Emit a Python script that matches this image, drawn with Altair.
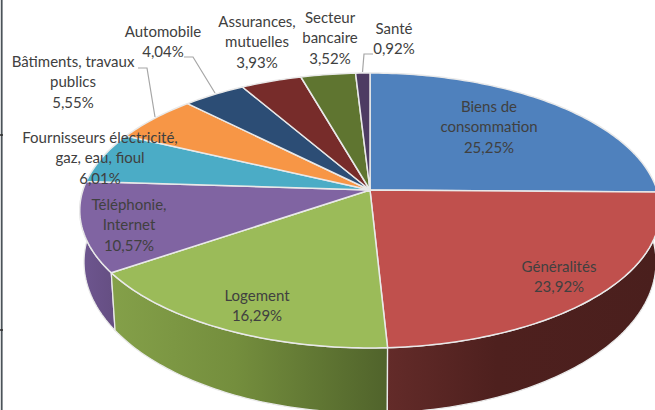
import math
import altair as alt
import pandas as pd

# Shares per complaint sector, clockwise from twelve o'clock
sectors = ["Biens de consommation", "Généralités", "Logement", "Téléphonie, Internet",
           "Fournisseurs électricité, gaz, eau, fioul", "Bâtiments, travaux publics",
           "Automobile", "Assurances, mutuelles", "Secteur bancaire", "Santé"]
shares = [25.25, 23.92, 16.29, 10.57, 6.01, 5.55, 4.04, 3.93, 3.52, 0.92]

# Wrapped label lines for each sector
label_lines = [["Biens de", "consommation"], ["Généralités"], ["Logement"],
               ["Téléphonie,", "Internet"], ["Fournisseurs électricité,", "gaz, eau, fioul"],
               ["Bâtiments, travaux", "publics"], ["Automobile"], ["Assurances,", "mutuelles"],
               ["Secteur", "bancaire"], ["Santé"]]

W, H = 655, 410
face_colors = ["#4F81BD", "#C0504D", "#9BBB59", "#8064A2", "#4BACC6",
               "#F79646", "#2C4D75", "#772C2A", "#5F7530", "#4D3B62"]
SEAM = "#e9e9e9"
TEXT = "#404040"
LEADER = "#a6a6a6"

# Layout of the label blocks: centre x and y of the first line
label_pos = [(489, 107), (559, 267), (257, 296), (129, 205), (100, 138),
             (73, 62), (163, 32), (257, 22), (330, 18), (394, 29)]
LINE_STEP = 20.3
leaders = [[(184, 57), (193, 57), (215, 93)],
           [(138, 68), (147, 68), (155, 117)],
           [(373, 54), (364, 54), (362.5, 72)]]

# Perspective projection of the pie disc: top face and bottom rim
PERSP = 0.149
CX = 370
TOP = dict(a=287.0, b=134.4, cy=190.0)
BOTTOM = dict(a=282.8, b=147.7, cy=239.5)


def project(deg, disc):
    t = math.radians(deg)
    u, v = math.sin(t), math.cos(t)
    w = 1 + PERSP * v
    return CX + disc["a"] * u / w, disc["cy"] - disc["b"] * v / w


def arc(start, end, disc):
    n = max(4, int(abs(end - start)))
    return [project(start + (end - start) * i / n, disc) for i in range(n + 1)]


def polygon(points):
    closed = points + [points[0]]
    return pd.DataFrame({"x": [p[0] for p in closed], "y": [p[1] for p in closed],
                         "i": list(range(len(closed)))})


X = alt.X("x:Q", scale=alt.Scale(domain=[0, W], nice=False, zero=False), axis=None)
Y = alt.Y("y:Q", scale=alt.Scale(domain=[H, 0], nice=False, zero=False), axis=None)


def filled(points, fill, width=1.5, stroke=SEAM):
    return alt.Chart(polygon(points)).mark_line(
        fill=fill, stroke=stroke, strokeWidth=width, strokeJoin="round", clip=True
    ).encode(x=X, y=Y, order="i:Q")


def side_gradient(stops):
    return alt.Gradient(
        gradient="linear", x1=0, x2=1, y1=0, y2=0,
        stops=[alt.GradientStop(color=c, offset=o) for o, c in stops],
    )


edges = [0.0]
for s in shares:
    edges.append(edges[-1] + s * 3.6)

layers = []

# Visible rim of the disc, front sectors only
rims = [
    (edges[3], 272.0, side_gradient([(0, "#6E5690"), (1, "#654E82")])),
    (edges[2], edges[3], side_gradient([(0, "#84A049"), (0.45, "#748E3D"), (1, "#50632B")])),
    (90.0, edges[2], side_gradient([(0, "#632B29"), (0.4, "#4E201E"), (1, "#4A1F1D")])),
]
for start, end, grad in rims:
    pts = arc(start, end, TOP) + arc(end, start, BOTTOM)
    layers.append(filled(pts, grad, 1.3))

# Top face
for k in range(len(shares)):
    pts = [(CX, TOP["cy"])] + arc(edges[k], edges[k + 1], TOP)
    layers.append(filled(pts, face_colors[k]))

# Leader lines
for seg in leaders:
    df = pd.DataFrame({"x": [p[0] for p in seg], "y": [p[1] for p in seg], "i": range(len(seg))})
    layers.append(alt.Chart(df).mark_line(stroke=LEADER, strokeWidth=1.2).encode(x=X, y=Y, order="i:Q"))

# Sector names and percentages
rows = []
for lines, share, (lx, ly) in zip(label_lines, shares, label_pos):
    for j, line in enumerate(lines + [f"{share:.2f}%".replace(".", ",")]):
        rows.append({"x": lx, "y": ly + j * LINE_STEP, "t": line})
layers.append(
    alt.Chart(pd.DataFrame(rows)).mark_text(
        font="Lato", fontSize=15, color=TEXT, align="center", baseline="middle"
    ).encode(x=X, y=Y, text="t:N")
)

# Window frame along the left edge
frame = pd.DataFrame({"x": [1.7, 1.7], "y": [0, H], "i": [0, 1]})
layers.append(alt.Chart(frame).mark_line(stroke="#4b5359", strokeWidth=1.8).encode(x=X, y=Y, order="i:Q"))
for ty in (135, 330):
    tick = pd.DataFrame({"x": [0, 3], "y": [ty, ty], "i": [0, 1]})
    layers.append(alt.Chart(tick).mark_line(stroke="#2b2b2b", strokeWidth=1.5).encode(x=X, y=Y, order="i:Q"))

chart = alt.layer(*layers).properties(
    width=W, height=H, padding=0, background="white",
    autosize=alt.AutoSizeParams(type="none"),
).configure_view(strokeWidth=0)

chart.save("out.html", embed_options={"renderer": "svg", "actions": False})
